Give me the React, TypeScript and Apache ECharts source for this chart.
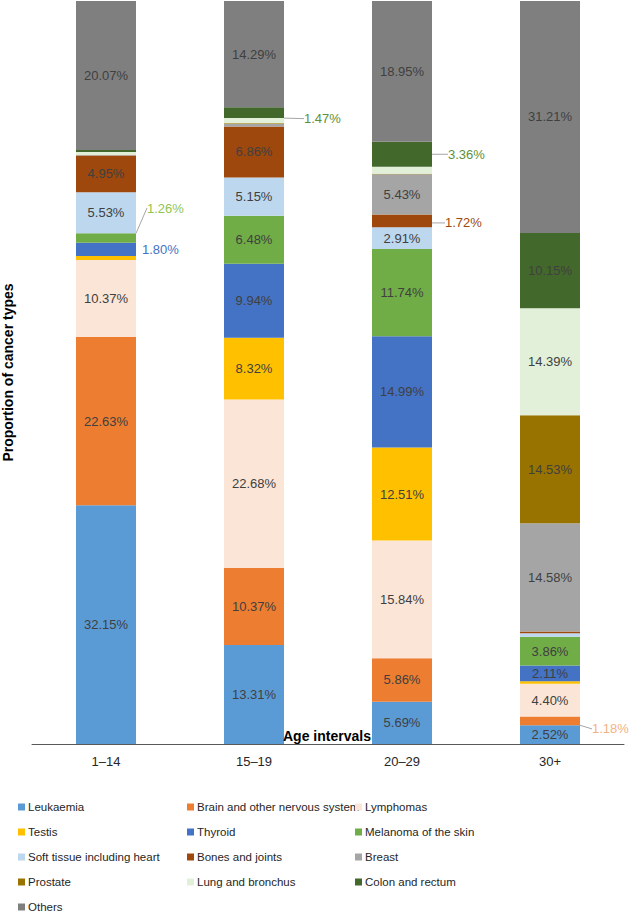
import React, { useEffect, useRef } from "react";
import * as echarts from "echarts";

const categories = ["1–14", "15–19", "20–29", "30+"];

const seriesNames = [
  "Leukaemia",
  "Brain and other nervous system",
  "Lymphomas",
  "Testis",
  "Thyroid",
  "Melanoma of the skin",
  "Soft tissue including heart",
  "Bones and joints",
  "Breast",
  "Prostate",
  "Lung and bronchus",
  "Colon and rectum",
  "Others",
];

const leukaemia = [32.15, 13.31, 5.69, 2.52];
const brain = [22.63, 10.37, 5.86, 1.18];
const lymphomas = [10.37, 22.68, 15.84, 4.4];
const testis = [0.52, 8.32, 12.51, 0.35];
const thyroid = [1.8, 9.94, 14.99, 2.11];
const melanoma = [1.26, 6.48, 11.74, 3.86];
const softTissue = [5.53, 5.15, 2.91, 0.5];
const bones = [4.95, 6.86, 1.72, 0.22];
const breast = [0.08, 0.35, 5.43, 14.58];
const prostate = [0.02, 0.08, 0.05, 14.53];
const lung = [0.38, 0.7, 0.95, 14.39];
const colon = [0.24, 1.47, 3.36, 10.15];
const others = [20.07, 14.29, 18.95, 31.21];

const seriesValues = [
  leukaemia, brain, lymphomas, testis, thyroid, melanoma, softTissue,
  bones, breast, prostate, lung, colon, others,
];

const colors = [
  "#5B9BD5", "#ED7D31", "#FBE5D6", "#FFC000", "#4472C4", "#70AD47", "#BDD7EE",
  "#9E480E", "#A5A5A5", "#997300", "#E2F0D9", "#43682B", "#7F7F7F",
];

// outside label styling: key = seriesIndex-dataIndex
const outside: Record<string, { distance: number; dy: number; color: string; line: boolean }> = {
  "5-0": { distance: 11, dy: -30, color: "#92C54F", line: true },
  "4-0": { distance: 6, dy: 0, color: "#4472C4", line: false },
  "11-1": { distance: 20, dy: 6, color: "#5E8F3A", line: true },
  "11-2": { distance: 16, dy: 0, color: "#5E8F3A", line: true },
  "7-2": { distance: 13, dy: 2, color: "#9E480E", line: true },
  "1-3": { distance: 12, dy: 8, color: "#F4B183", line: true },
};

const legendCols = [
  [0, 3, 6, 9, 12],
  [1, 4, 7, 10],
  [2, 5, 8, 11],
];
const legendLeft = [18, 187, 355];

const FONT = "'Liberation Sans', Arial, Helvetica, sans-serif";

export default function App() {
  const ref = useRef<HTMLDivElement>(null);
  useEffect(() => {
    if (!ref.current) return;
    const chart = echarts.init(ref.current, null, { renderer: "svg" });

    const series = seriesNames.map((name, si) => ({
      name,
      type: "bar",
      stack: "total",
      barWidth: 60,
      itemStyle: { color: colors[si] },
      labelLine: { show: false },
      data: seriesValues[si].map((v, di) => {
        const key = `${si}-${di}`;
        const o = outside[key];
        const show = v >= 1;
        const item: any = {
          value: v,
          label: {
            show,
            position: o ? "right" : "inside",
            distance: o ? o.distance : 5,
            color: o ? o.color : "#404040",
            fontSize: 13,
            fontFamily: FONT,
            formatter: (p: any) => `${Number(p.value).toFixed(2)}%`,
          },
        };
        if (o && o.line) {
          item.labelLine = { show: true, lineStyle: { color: "#A6A6A6", width: 1 } };
        }
        return item;
      }),
      labelLayout: (params: any) => {
        const o = outside[`${params.seriesIndex}-${params.dataIndex}`];
        if (o && o.dy) return { dy: o.dy };
        return {};
      },
    }));

    chart.setOption({
      animation: false,
      textStyle: { fontFamily: FONT },
      grid: { left: 32, right: 6, top: 1, bottom: 169, outerBoundsMode: "none", containLabel: false },
      xAxis: {
        type: "category",
        data: categories,
        axisLine: { lineStyle: { color: "#595959", width: 1 } },
        axisTick: { show: false },
        axisLabel: { color: "#262626", fontSize: 13, margin: 11, fontFamily: FONT },
        z: 10,
      },
      yAxis: {
        type: "value",
        min: 0,
        max: 100,
        name: "Proportion of cancer types",
        nameLocation: "middle",
        nameGap: 17,
        nameTextStyle: { fontWeight: "bold", fontSize: 14, color: "#000", fontFamily: FONT },
        axisLine: { show: false },
        axisTick: { show: false },
        axisLabel: { show: false },
        splitLine: { show: false },
      },
      graphic: [
        {
          type: "text",
          left: 283,
          top: 729,
          z: 100,
          style: {
            text: "Age intervals",
            font: `bold 14px ${FONT}`,
            fill: "#000",
          },
        },
      ],
      legend: legendCols.map((col, ci) => ({
        orient: "vertical",
        left: legendLeft[ci],
        top: 801,
        padding: 0,
        itemWidth: 7,
        itemHeight: 7,
        itemGap: 13,
        icon: "rect",
        selectedMode: false,
        textStyle: { fontSize: 11.5, color: "#262626", fontFamily: FONT, padding: [0, 0, 0, -2] },
        data: col.map((i) => seriesNames[i]),
      })),
      series,
    });
    return () => chart.dispose();
  }, []);
  return (
    <div
      ref={ref}
      style={{ position: "fixed", left: 0, top: 0, width: 630, height: 913, background: "#fff" }}
    />
  );
}
